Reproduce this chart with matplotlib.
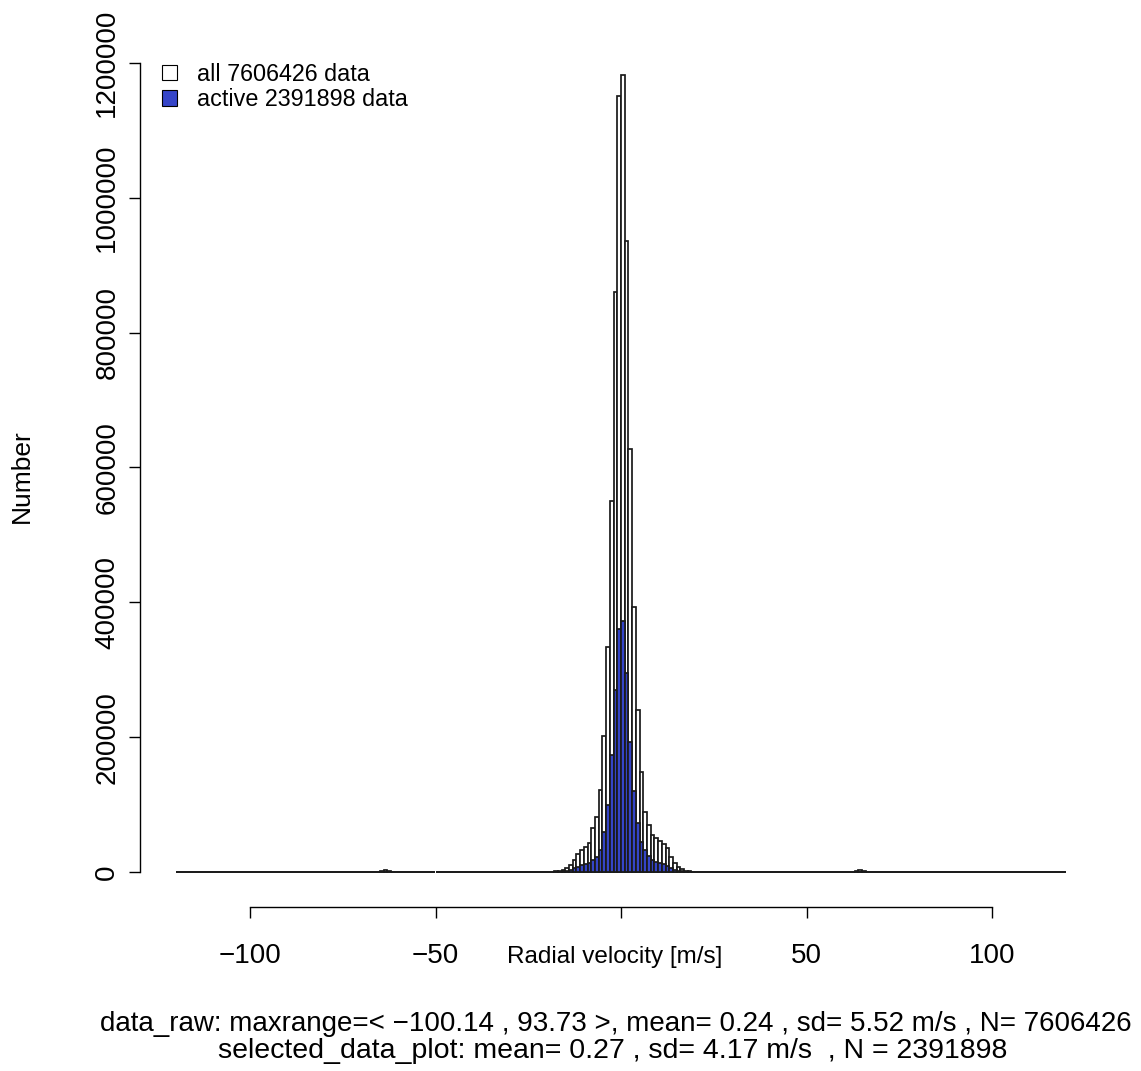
import numpy as np
import matplotlib
matplotlib.use("Agg")
import matplotlib.pyplot as plt
from matplotlib.patches import Patch

# ---- data ----
hist_range = (-120, 120)          # histogram bins of width 1 m/s
bin_width = 1
center_bins = list(range(-20, 20))  # left edges of the central bins
all_counts_center = [200, 400, 800, 1500, 3000, 5400, 10400, 17800, 26000, 32600,
                     37600, 43500, 65000, 81000, 122000, 201000, 334000, 550000, 860000, 1151000,
                     1182000, 936000, 627000, 393000, 240000, 149000, 89500, 69700, 54900, 50000,
                     46500, 42000, 35000, 22800, 13000, 7900, 4000, 2000, 1000, 500]
active_counts_center = [50, 100, 300, 700, 1000, 1500, 3000, 5400, 7900, 10400,
                        11900, 13800, 17800, 22800, 32600, 60000, 99000, 173500, 270000, 361000,
                        372000, 295000, 193000, 120000, 72000, 45000, 32600, 24000, 18000, 15300,
                        13800, 11400, 8900, 5400, 3000, 1500, 800, 400, 200, 100]
bump_bins = [-65, -64, -63, 63, 64, 65]
all_bump_counts = [1500, 2500, 1500, 1500, 2500, 1500]
active_bump_counts = [300, 500, 300, 300, 500, 300]

yticks = [0, 200000, 400000, 600000, 800000, 1000000, 1200000]
xticks = [-100, -50, 0, 50, 100]
xtick_labels = ["\u2212100", "\u221250", "", "50", "100"]
legend_labels = ["all 7606426 data", "active 2391898 data"]
xlabel = "Radial velocity [m/s]"
ylabel = "Number"
subtitle1 = "data_raw: maxrange=< \u2212100.14 , 93.73 >, mean= 0.24 , sd= 5.52 m/s , N= 7606426"
subtitle2 = "selected_data_plot: mean= 0.27 , sd= 4.17 m/s  , N = 2391898"

# ---- build full bin arrays ----
lefts = np.arange(hist_range[0], hist_range[1], bin_width)
all_counts = np.zeros(len(lefts))
active_counts = np.zeros(len(lefts))
for b, a, s in zip(center_bins, all_counts_center, active_counts_center):
    i = b - hist_range[0]
    all_counts[i] = a
    active_counts[i] = s
for b, a, s in zip(bump_bins, all_bump_counts, active_bump_counts):
    i = b - hist_range[0]
    all_counts[i] = a
    active_counts[i] = s

plt.rcParams['font.family'] = ['Liberation Sans', 'DejaVu Sans']
W, H = 1141, 1071
fig = plt.figure(figsize=(W / 100, H / 100), dpi=100)

# axes placement (pixels -> fractions)
px_per_unit = 3.71
x0_data = 621.0
xlim = (-129.7, 130.0)
left_px = x0_data + xlim[0] * px_per_unit
right_px = x0_data + xlim[1] * px_per_unit
py_per_count = (872 - 63) / 1200000
ylim = (-(907 - 872) / py_per_count, 1227000)
bottom_px = 907
top_px = 872 - ylim[1] * py_per_count
ax = fig.add_axes([left_px / W, 1 - bottom_px / H, (right_px - left_px) / W, (bottom_px - top_px) / H])
ax.set_xlim(*xlim)
ax.set_ylim(*ylim)

lw = 1.25
blue = '#3545c8'
ax.bar(lefts, all_counts, width=bin_width, align='edge', facecolor='white',
       edgecolor='#1a1a1a', linewidth=lw, zorder=2)
ax.bar(lefts, active_counts, width=bin_width, align='edge', facecolor=blue,
       edgecolor='#1a1a1a', linewidth=lw, zorder=3)

for s in ['top', 'right']:
    ax.spines[s].set_visible(False)
ax.spines['left'].set_bounds(0, 1200000)
ax.spines['bottom'].set_bounds(-100, 100)
ax.spines['left'].set_linewidth(1.0)
ax.spines['bottom'].set_linewidth(1.0)

ax.set_yticks(yticks)
ax.set_yticklabels([str(v) for v in yticks], rotation=90, va='center')
ax.set_xticks(xticks)
ax.set_xticklabels(xtick_labels)
ax.tick_params(axis='both', length=8, width=1.0, labelsize=20, colors='black')
ax.tick_params(axis='y', pad=6)
ax.tick_params(axis='x', pad=18)

fig.text(615 / W, 1 - 957 / H, xlabel, ha='center', va='center', fontsize=17.5)
fig.text(22 / W, 1 - 476 / H, ylabel, ha='center', va='center', rotation=90, fontsize=19)
fig.text(616 / W, 1 - 1024 / H, subtitle1, ha='center', va='center', fontsize=20)
fig.text(613 / W, 1 - 1051 / H, subtitle2, ha='center', va='center', fontsize=20.5)

handles = [Patch(facecolor='white', edgecolor='black', linewidth=0.8),
           Patch(facecolor=blue, edgecolor='black', linewidth=0.8)]
leg = fig.legend(handles, legend_labels, loc='upper left',
                 bbox_to_anchor=(157 / W, 1 - 58 / H), frameon=False, fontsize=16.8,
                 handlelength=0.65, handleheight=0.65, handletextpad=0.85, labelspacing=0.12,
                 borderaxespad=0, borderpad=0.2)

fig.savefig('out.png', dpi=100)
